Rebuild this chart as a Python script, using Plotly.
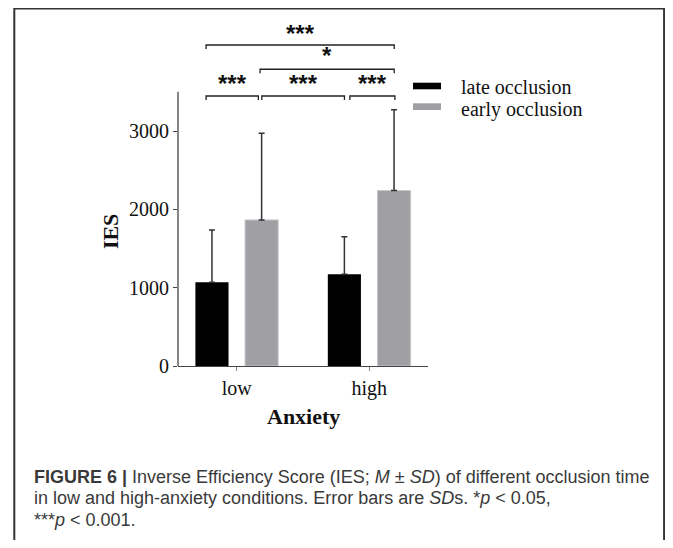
import plotly.graph_objects as go

# ---- data ----
categories = ["low", "high"]
series_names = ["late occlusion", "early occlusion"]
late_mean = [1070, 1170]
late_sd = [665, 480]
early_mean = [1865, 2240]
early_sd = [1105, 1030]
y_tickvals = [0, 1000, 2000, 3000]

# significance brackets: (x_left, x_right, level, label) in category units / data units
brackets = [
    (-0.232, 1.189, 4098, "***"),
    (0.176, 1.189, 3788, "*"),
    (-0.232, 0.163, 3447, "***"),
    (0.189, 0.813, 3447, "***"),
    (0.854, 1.194, 3447, "***"),
]
label_shift = [11, 14, 12, 12, 12]

caption_lines = [
    "<b>FIGURE 6 |</b> Inverse Efficiency Score (IES; <i>M</i> ± <i>SD</i>) of different occlusion time",
    "in low and high-anxiety conditions. Error bars are <i>SD</i>s. *<i>p</i> &lt; 0.05,",
    "***<i>p</i> &lt; 0.001.",
]

# ---- layout geometry ----
OFF = 8                      # page body margin
W, H = 673 - 2 * OFF, 548 - 2 * OFF
# plot area in screen pixels
SL, SR, ST, SB = 178, 427.7, 37, 366
L, R, T, B = SL - OFF, SR - OFF, ST - OFF, SB - OFF
YMAX = 4200
AXIS_TOP = 3500


def px_x(p):
    return (p - SL) / (SR - SL)


def px_y(p):
    return (SB - p) / (SB - ST)


serif = "Liberation Serif, Times New Roman, serif"
sans = "Liberation Sans, Arial, sans-serif"

fig = go.Figure()
fig.add_trace(go.Bar(
    x=categories, y=late_mean, name=series_names[0],
    marker=dict(color="#000000", line=dict(color="#000000", width=0)),
    error_y=dict(type="data", symmetric=False, array=late_sd, arrayminus=[0, 0],
                 color="#333333", thickness=1.5, width=3),
))
fig.add_trace(go.Bar(
    x=categories, y=early_mean, name=series_names[1],
    marker=dict(color="#A0A0A4", line=dict(color="#C8C8CC", width=1)),
    error_y=dict(type="data", symmetric=False, array=early_sd, arrayminus=[0, 0],
                 color="#333333", thickness=1.5, width=3),
))

shapes = []
annotations = []

# y axis line (only up to 3500)
shapes.append(dict(type="line", xref="paper", yref="y", x0=0, x1=0, y0=0, y1=AXIS_TOP,
                   line=dict(color="#444444", width=1.3)))

# brackets
drop = 50
for (xl, xr, lv, lab), sh in zip(brackets, label_shift):
    shapes.append(dict(type="path", xref="x", yref="y",
                       path=f"M {xl},{lv - drop} L {xl},{lv} L {xr},{lv} L {xr},{lv - drop}",
                       line=dict(color="#222222", width=1.3)))
    annotations.append(dict(x=(xl + xr) / 2, y=lv, xref="x", yref="y", text=f"<b>{lab}</b>",
                            showarrow=False, yanchor="middle", yshift=sh,
                            font=dict(family=sans, size=24, color="#111111")))

# manual legend
leg_items = [(series_names[0], "#000000", 82.7, 89.3, 87.3),
             (series_names[1], "#A0A0A4", 103.3, 110.0, 109.3)]
for name, col, y0, y1, yc in leg_items:
    shapes.append(dict(type="rect", xref="paper", yref="paper",
                       x0=px_x(412.7), x1=px_x(440.7), y0=px_y(y1), y1=px_y(y0),
                       fillcolor=col, line=dict(width=0)))
    annotations.append(dict(x=px_x(459), y=px_y(yc), xref="paper", yref="paper",
                            text=name, showarrow=False, xanchor="left", yanchor="middle",
                            font=dict(family=serif, size=20, color="#111111")))

# axis titles
annotations.append(dict(x=px_x(110.7), y=px_y(231.5), xref="paper", yref="paper",
                        text="<b>IES</b>", textangle=-90, showarrow=False,
                        xanchor="center", yanchor="middle",
                        font=dict(family=serif, size=22, color="#111111")))
annotations.append(dict(x=px_x(303), y=px_y(416.7), xref="paper", yref="paper",
                        text="<b>Anxiety</b>", showarrow=False,
                        xanchor="center", yanchor="middle",
                        font=dict(family=serif, size=22, color="#111111")))

# frame (open at the bottom)
bc = "#333333"
shapes.append(dict(type="path", xref="paper", yref="paper",
                   path=(f"M {px_x(14.5)},{px_y(600)} L {px_x(14.5)},{px_y(8.5)} "
                         f"L {px_x(663.5)},{px_y(8.5)} L {px_x(663.5)},{px_y(600)}"),
                   line=dict(color=bc, width=2)))

# caption, one annotation per line
for i, line in enumerate(caption_lines):
    annotations.append(dict(x=px_x(32), y=px_y(476.7 + 21.6 * i), xref="paper", yref="paper",
                            text=line, showarrow=False, xanchor="left", yanchor="middle",
                            align="left", font=dict(family=sans, size=18, color="#3a3a3a")))

fig.update_layout(
    width=W, height=H,
    margin=dict(l=L, r=W - R, t=T, b=H - B, pad=0),
    paper_bgcolor="white", plot_bgcolor="white",
    barmode="group", bargap=0.25, bargroupgap=0.333,
    showlegend=False,
    shapes=shapes, annotations=annotations,
    xaxis=dict(type="category", range=[-0.444, 1.444], showline=True, linecolor="#444444",
               linewidth=1.3, ticks="outside", ticklen=4, tickcolor="#888888",
               tickfont=dict(family=serif, size=20, color="#111111"), showgrid=False,
               zeroline=False, fixedrange=True),
    yaxis=dict(range=[0, YMAX], tickvals=y_tickvals, ticks="outside", ticklen=4,
               tickcolor="#444444", showline=False, showgrid=False, zeroline=False,
               tickfont=dict(family=serif, size=20, color="#111111"), fixedrange=True),
)

fig.write_html("out.html")
